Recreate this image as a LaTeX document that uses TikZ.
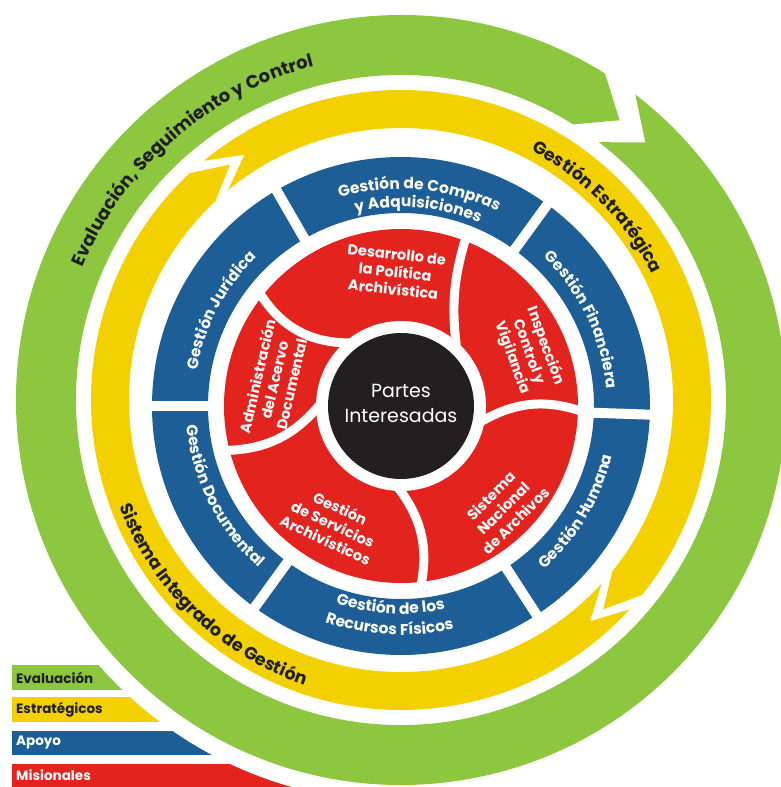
\documentclass[tikz,border=0pt]{standalone}
\usepackage{fontspec}
\setmainfont{Poppins}
\usetikzlibrary{decorations.text}
\definecolor{cgreen}{HTML}{8DC63F}
\definecolor{cyellow}{HTML}{F3D100}
\definecolor{cblue}{HTML}{1D5E97}
\definecolor{cred}{HTML}{E2231E}
\definecolor{cblack}{HTML}{231F20}
\definecolor{cdark}{HTML}{1E1E1E}
\newcommand{\gtxt}{\bfseries\fontsize{18}{20}\selectfont\color{cdark}}
\newcommand{\ytxt}{\bfseries\fontsize{17.5}{20}\selectfont\color{cdark}}
\newcommand{\btxt}{\bfseries\fontsize{15.5}{18}\selectfont\color{white}}
\newcommand{\arcText}[5]{%
  \path[decorate, decoration={text along path, text align=center, text={|#4|#5}}]
    (#2:#1) arc[start angle=#2, end angle=#3, radius=#1];}
\tikzset{
  sepline/.style={white, line width=9pt},
  bsepline/.style={white, line width=10pt},
  petal/.style={text=white, align=center, font=\bfseries\fontsize{14.5}{17.5}\selectfont, inner sep=0pt},
  legtxt/.style={anchor=west, font=\bfseries\fontsize{13.5}{15}\selectfont, inner sep=0pt},
}
\begin{document}
\begin{tikzpicture}[x=1pt,y=1pt]
\useasboundingbox (-401,-387) rectangle (380,400);
\clip (-401,-387) rectangle (380,400);
% legend bars
\fill[cgreen] (-389,-265) rectangle (0,-290);
\fill[cyellow] (-389,-297) rectangle (0,-322);
\fill[cblue] (-389,-331) rectangle (0,-355);
\fill[cred] (-389,-364) rectangle (0,-392);
\fill[white] (0,0) circle[radius=402];
% green ring arrow
\fill[cgreen] (52.5:385) arc[start angle=52.5,end angle=-302,radius=385] -- (-308:355) -- (-302:325)
  arc[start angle=-302,end angle=52.5,radius=325] -- (46.5:355) -- cycle;
% yellow arrows
\fill[cyellow] (129.5:310) arc[start angle=129.5,end angle=-39,radius=310] -- (-46:291) -- (-39:272)
  arc[start angle=-39,end angle=129.5,radius=272] -- (122.5:291) -- cycle;
\fill[cyellow] (-42.5:310) arc[start angle=-42.5,end angle=-227,radius=310] -- (-234:291) -- (-227:272)
  arc[start angle=-227,end angle=-42.5,radius=272] -- (-49.5:291) -- cycle;
% dark texts on green and yellow
\arcText{345}{181}{81}{\gtxt}{Evaluación, Seguimiento y Control}
\arcText{281}{80}{9}{\ytxt}{Gestión Estratégica}
\arcText{301}{176}{276}{\ytxt}{Sistema Integrado de Gestión}
\begin{scope}[shift={(0,-6)}]
% blue ring
\fill[cblue, even odd rule] (0,0) circle[radius=249] (0,0) circle[radius=193];
\foreach \a in {120,54,-2,-57,-126,180} \draw[bsepline] (\a:186) -- (\a:256);
% red pinwheel
\fill[cred] (0,0) circle[radius=177];
\draw[sepline] (46:80) to[bend left=12] (69:184);
\draw[sepline] (-12:80) to[bend left=25] (-2:184);
\draw[sepline] (-93:80) to[bend left=25] (-84:184);
\draw[sepline] (178:80) to[bend left=25] (194:184);
\draw[sepline] (128:80) to[bend left=30] (141:184);
\fill[white] (0,0) circle[radius=85];
\fill[cblack] (0,0) circle[radius=73];
% blue texts
\arcText{217}{126}{44}{\btxt}{Gestión de Compras}
\arcText{199}{126}{44}{\btxt}{y Adquisiciones}
\arcText{207}{190}{114}{\btxt}{Gestión Jurídica}
\arcText{206}{63}{-12}{\btxt}{Gestión Financiera}
\arcText{217}{-69}{7}{\btxt}{Gestión Humana}
\arcText{208}{-133}{-53}{\btxt}{Gestión de los}
\arcText{229}{-133}{-53}{\btxt}{Recursos Físicos}
\arcText{215}{-192}{-114}{\btxt}{Gestión Documental}
\end{scope}
% centre
\node[text=white, align=center, font=\fontsize{19}{25}\selectfont] (partes) at (0,-3) {Partes\\Interesadas};
% petals
\node[petal, rotate=-6] (desarrollo) at (-6,128) {Desarrollo de\\la Política\\Archivística};
\node[petal, rotate=-70] (inspeccion) at (128,48) {Inspección\\Control y\\Vigilancia};
\node[petal, rotate=45] (sistema) at (102,-108) {Sistema\\Nacional\\de Archivos};
\node[petal, rotate=-25] (servicios) at (-68,-124) {Gestión\\de Servicios\\Archivísticos};
\node[petal, rotate=77] (admin) at (-127,20) {Administración\\del Acervo\\Documental};
% legend text
\node[legtxt, text=cdark] (lev) at (-385,-277.5) {Evaluación};
\node[legtxt, text=cdark] (les) at (-385,-309.5) {Estratégicos};
\node[legtxt, text=white] (lap) at (-385,-343) {Apoyo};
\node[legtxt, text=white] (lmi) at (-385,-375.5) {Misionales};
\end{tikzpicture}
\end{document}
